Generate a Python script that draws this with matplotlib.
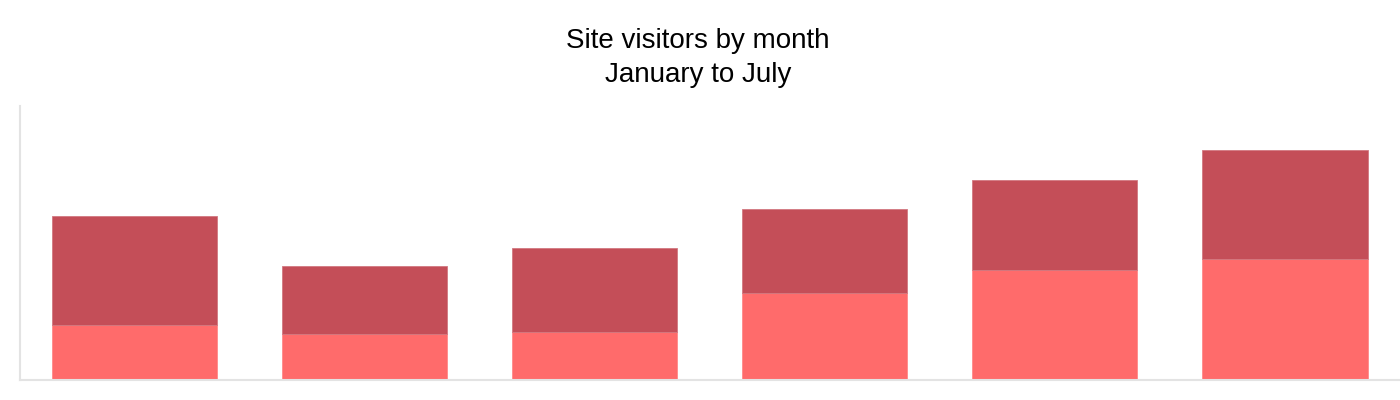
import matplotlib
matplotlib.use("Agg")
import matplotlib.pyplot as plt
import numpy as np

months = ["January", "February", "March", "April", "May", "June"]
series_a = [50, 42, 44, 79, 100, 110]
series_b = [100, 62, 76, 77, 82.5, 100]

plt.rcParams['font.family'] = ['Liberation Sans', 'DejaVu Sans']

fig = plt.figure(figsize=(14, 4), dpi=100)
ax = fig.add_axes([19.5/1400, 20/400, 1 - 19.5/1400, (380-106)/400])

x = np.arange(len(months))
w = 0.718
ax.bar(x, series_a, width=w, color="#ff6b6b", edgecolor="#ff8a8a", linewidth=0.6)
ax.bar(x, series_b, width=w, bottom=series_a, color="#c44e58", edgecolor="#d27880", linewidth=0.6)

ax.set_xlim(-0.5, len(months) - 0.5)
ax.set_ylim(0, 250)
ax.set_xticks([])
ax.set_yticks([])
for s in ["top", "right"]:
    ax.spines[s].set_visible(False)
for s in ["left", "bottom"]:
    ax.spines[s].set_color("#e3e3e3")
    ax.spines[s].set_linewidth(1.5)

fig.text(0.4985, 0.88, "Site visitors by month", ha="center", va="baseline", fontsize=20)
fig.text(0.4985, 0.795, "January to July", ha="center", va="baseline", fontsize=20)

fig.savefig("out.png", dpi=100)
